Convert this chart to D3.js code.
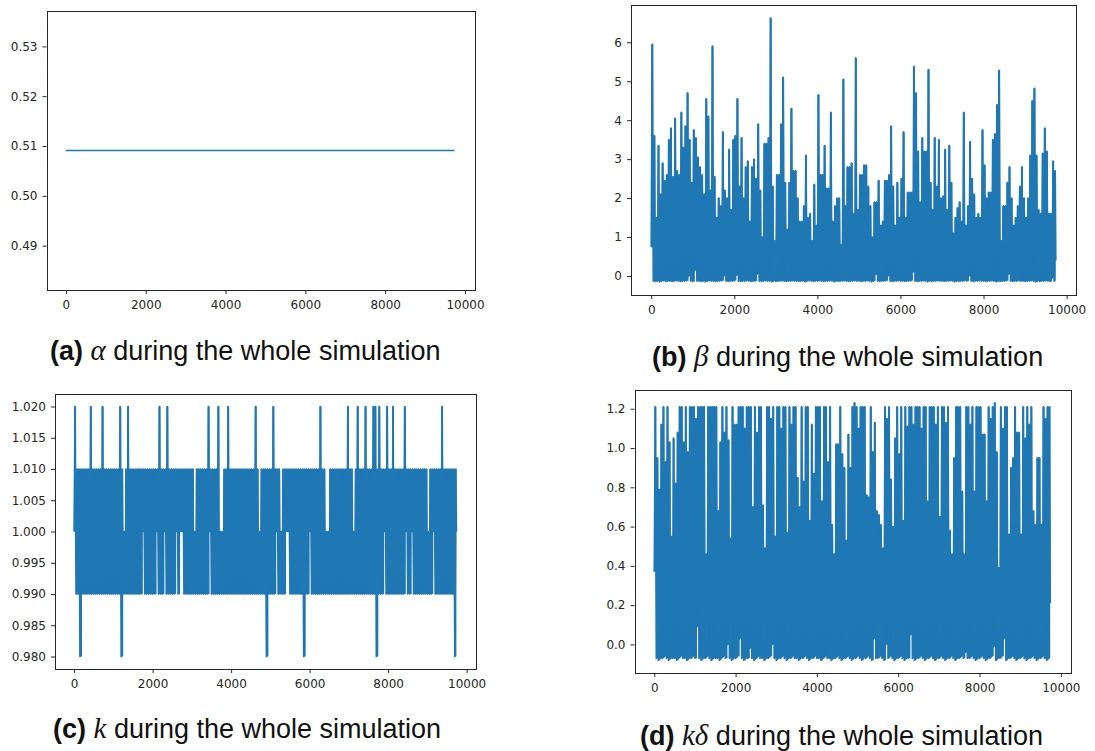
<!DOCTYPE html>
<html>
<head>
<meta charset="utf-8">
<script src="https://cdn.jsdelivr.net/npm/d3@7"></script>
<style>
  html, body { margin: 0; padding: 0; background: #ffffff; }
  svg { display: block; }
</style>
</head>
<body>
<svg id="fig" width="1095" height="751"></svg>
<script>
// ---------------------------------------------------------------
// Simulation traces: 9740 iterations, summarised every 50 steps.
// Each 50-step window holds its lowest value (trough, at the start of
// the window) and its highest value (peak, half way through it).
// ---------------------------------------------------------------
const lastStep = 9739;
const binWidth = 50;

// alpha stays constant during the whole run
const alphaSteps  = [0, 9739];
const alphaValues = [0.5091, 0.5091];

// beta
const betaPeaks = [
  5.95, 3.6, 1.5, 3.35, 2.1, 2.9, 2.45, 2.6, 3.5, 3.8,
  2.55, 4.05, 2.7, 2.6, 4.2, 3.3, 3.85, 4.7, 3.5, 2.4,
  3.75, 3.55, 3.05, 2.8, 2.6, 2.1, 4.55, 4.1, 2.2, 5.9,
  2.55, 1.5, 2.0, 1.8, 3.7, 2.2, 2.0, 3.25, 1.7, 3.5,
  3.6, 4.55, 2.3, 3.55, 2.0, 2.8, 2.95, 1.4, 2.8, 3.0,
  2.5, 3.9, 2.2, 1.0, 3.4, 3.4, 3.55, 6.62, 2.3, 0.9,
  2.6, 2.6, 3.9, 5.1, 2.4, 1.2, 2.4, 4.3, 2.7, 2.7,
  2.0, 1.4, 1.4, 1.8, 3.1, 1.5, 1.6, 0.9, 2.35, 1.3,
  4.65, 2.6, 2.6, 3.35, 2.25, 2.25, 4.2, 1.4, 1.8, 2.0,
  2.0, 0.8, 5.05, 1.8, 2.8, 2.8, 2.9, 1.6, 5.6, 1.7,
  2.6, 2.6, 2.85, 2.85, 2.3, 1.8, 1.0, 1.9, 1.9, 2.45,
  1.3, 1.4, 2.45, 2.45, 2.6, 3.85, 2.3, 1.3, 2.4, 1.5,
  2.5, 3.7, 1.5, 2.15, 2.15, 2.15, 5.38, 4.7, 3.2, 1.9,
  3.55, 3.2, 3.2, 5.3, 2.4, 1.7, 3.55, 2.3, 3.5, 2.0,
  2.05, 3.25, 1.7, 3.35, 2.4, 1.1, 1.5, 1.75, 1.9, 1.4,
  4.2, 1.3, 1.8, 3.45, 2.5, 2.1, 1.5, 1.6, 1.5, 3.75,
  2.85, 2.0, 2.15, 2.15, 3.5, 3.65, 4.4, 5.28, 0.9, 1.8,
  1.8, 2.4, 2.8, 2.0, 1.3, 1.5, 1.8, 2.3, 2.8, 2.0,
  1.5, 2.0, 3.1, 4.5, 4.82, 3.1, 1.7, 1.6, 3.15, 3.8,
  3.2, 1.6, 1.6, 2.95, 2.7
];
const betaTroughs = [
  0.74, -0.13, -0.14, -0.13, -0.15, -0.13, -0.12, -0.14, -0.13, -0.13,
  -0.14, -0.13, -0.12, -0.13, -0.14, -0.13, -0.13, -0.12, 0.0, -0.13,
  -0.14, 0.15, -0.13, -0.13, -0.14, -0.13, -0.15, -0.13, -0.12, -0.13,
  -0.13, -0.14, -0.13, -0.13, -0.12, 0.0, -0.13, -0.14, -0.13, -0.13,
  -0.12, 0.02, -0.13, -0.14, -0.13, -0.13, -0.12, -0.13, -0.14, -0.13,
  -0.13, 0.05, -0.13, -0.14, -0.13, -0.12, -0.13, -0.13, -0.15, -0.13,
  -0.14, -0.13, -0.13, -0.12, -0.13, -0.14, -0.13, -0.13, -0.12, -0.13,
  -0.13, -0.14, -0.13, -0.13, -0.15, -0.13, -0.12, -0.13, -0.14, -0.13,
  -0.13, -0.12, -0.13, -0.14, -0.13, -0.13, -0.12, -0.13, -0.15, -0.13,
  -0.14, -0.13, -0.13, -0.12, -0.13, -0.14, -0.13, -0.13, -0.12, -0.13,
  -0.13, -0.14, -0.13, -0.13, -0.12, -0.13, -0.15, -0.13, 0.04, -0.13,
  -0.14, -0.13, -0.13, -0.12, 0.0, -0.13, -0.14, -0.13, -0.13, -0.12,
  -0.13, -0.13, -0.14, -0.13, -0.13, -0.12, 0.1, -0.13, -0.14, -0.13,
  -0.13, -0.12, -0.13, -0.15, -0.13, -0.14, -0.13, -0.13, -0.12, -0.13,
  -0.13, -0.14, -0.13, -0.13, -0.12, -0.13, -0.15, -0.13, -0.14, -0.13,
  -0.13, -0.12, -0.13, 0.0, -0.13, -0.14, -0.13, -0.13, -0.12, -0.13,
  -0.13, -0.14, -0.13, -0.13, -0.12, -0.13, -0.15, -0.13, -0.14, -0.13,
  -0.13, -0.12, 0.05, -0.13, -0.14, -0.13, -0.13, -0.12, -0.13, -0.13,
  -0.14, -0.13, -0.13, -0.12, -0.13, -0.15, -0.13, -0.14, -0.13, -0.13,
  -0.12, -0.13, -0.14, -0.05, -0.13
];
const betaEnd = 0.4;

// k
const kPeaks = [
  1.02, 1.01, 1.01, 1.01, 1.01, 1.01, 1.01, 1.01, 1.02, 1.01,
  1.01, 1.01, 1.01, 1.01, 1.02, 1.01, 1.01, 1.01, 1.01, 1.01,
  1.01, 1.01, 1.01, 1.02, 1.01, 1.00, 1.01, 1.02, 1.01, 1.01,
  1.01, 1.01, 1.01, 1.01, 1.01, 1.01, 1.01, 1.01, 1.01, 1.01,
  1.01, 1.01, 1.01, 1.02, 1.01, 1.01, 1.01, 1.02, 1.01, 1.01,
  1.01, 1.01, 1.01, 1.01, 1.01, 1.01, 1.01, 1.01, 1.01, 1.01,
  1.01, 1.00, 1.01, 1.01, 1.01, 1.01, 1.01, 1.01, 1.02, 1.01,
  1.01, 1.01, 1.01, 1.02, 1.00, 1.00, 1.01, 1.01, 1.02, 1.01,
  1.01, 1.01, 1.01, 1.01, 1.01, 1.01, 1.01, 1.01, 1.01, 1.01,
  1.01, 1.01, 1.02, 1.01, 1.00, 1.01, 1.01, 1.01, 1.01, 1.01,
  1.01, 1.02, 1.01, 1.01, 1.01, 1.00, 1.01, 1.01, 1.01, 1.01,
  1.01, 1.01, 1.01, 1.01, 1.01, 1.01, 1.01, 1.01, 1.01, 1.01,
  1.01, 1.01, 1.01, 1.01, 1.01, 1.02, 1.01, 1.01, 1.00, 1.00,
  1.01, 1.01, 1.01, 1.01, 1.01, 1.01, 1.01, 1.01, 1.01, 1.02,
  1.01, 1.01, 1.00, 1.01, 1.02, 1.01, 1.01, 1.01, 1.02, 1.01,
  1.01, 1.01, 1.02, 1.02, 1.01, 1.02, 1.01, 1.01, 1.01, 1.02,
  1.01, 1.01, 1.02, 1.01, 1.01, 1.01, 1.01, 1.01, 1.02, 1.01,
  1.01, 1.01, 1.01, 1.01, 1.01, 1.01, 1.01, 1.01, 1.01, 1.01,
  1.00, 1.01, 1.01, 1.01, 1.01, 1.01, 1.01, 1.02, 1.01, 1.01,
  1.01, 1.01, 1.01, 1.01, 1.01
];
const kTroughs = [
  1.00, 0.99, 0.99, 0.98, 0.99, 0.99, 0.99, 0.99, 0.99, 0.99,
  0.99, 0.99, 0.99, 0.99, 0.99, 0.99, 0.99, 0.99, 0.99, 0.99,
  0.99, 0.99, 0.99, 0.99, 0.98, 0.99, 0.99, 0.99, 0.99, 0.99,
  0.99, 0.99, 0.99, 0.99, 0.99, 1.00, 0.99, 0.99, 0.99, 0.99,
  0.99, 0.99, 1.00, 0.99, 0.99, 0.99, 1.00, 0.99, 0.99, 0.99,
  0.99, 0.99, 1.00, 0.99, 1.00, 1.00, 0.99, 0.99, 0.99, 0.99,
  0.99, 0.99, 0.99, 0.99, 0.99, 0.99, 0.99, 0.99, 0.99, 1.00,
  0.99, 0.99, 0.99, 0.99, 0.99, 0.99, 0.99, 0.99, 0.99, 0.99,
  0.99, 0.99, 0.99, 0.99, 0.99, 0.99, 0.99, 0.99, 0.99, 0.99,
  0.99, 0.99, 0.99, 0.99, 0.99, 0.99, 0.99, 0.99, 0.98, 0.99,
  0.99, 0.99, 0.99, 1.00, 0.99, 0.99, 0.99, 0.99, 1.00, 1.00,
  0.99, 0.99, 0.99, 0.99, 0.99, 0.99, 0.99, 0.98, 0.99, 0.99,
  1.00, 0.99, 0.99, 0.99, 0.99, 0.99, 0.99, 0.99, 0.99, 0.99,
  0.99, 0.99, 0.99, 0.99, 0.99, 0.99, 0.99, 0.99, 0.99, 0.99,
  0.99, 0.99, 0.99, 0.99, 0.99, 0.99, 0.99, 0.99, 0.99, 0.99,
  0.99, 0.99, 0.99, 0.99, 0.98, 0.99, 0.99, 0.99, 1.00, 0.99,
  0.99, 0.99, 0.99, 0.99, 0.99, 0.99, 0.99, 0.99, 0.99, 1.00,
  0.99, 0.99, 1.00, 0.99, 0.99, 0.99, 0.99, 0.99, 0.99, 0.99,
  0.99, 0.99, 0.99, 1.00, 0.99, 0.99, 0.99, 0.99, 0.99, 0.99,
  0.99, 0.99, 0.99, 0.99, 0.98
];
const kEnd = 1.00;

// k * delta
const kdPeaks = [
  1.21, 0.95, 0.79, 1.12, 1.21, 0.93, 1.21, 1.03, 0.55, 1.05,
  0.82, 1.08, 1.21, 1.21, 1.03, 1.21, 0.98, 1.21, 1.21, 1.21,
  1.15, 1.21, 1.21, 1.21, 1.21, 0.46, 1.21, 1.21, 1.21, 1.21,
  1.21, 0.68, 1.03, 1.21, 1.08, 1.21, 1.04, 0.54, 1.21, 1.12,
  1.12, 1.21, 1.21, 1.21, 1.10, 1.21, 1.21, 1.21, 0.70, 1.21,
  1.08, 1.21, 1.21, 0.71, 0.49, 1.21, 1.21, 1.15, 1.21, 0.55,
  1.21, 1.21, 1.10, 1.21, 1.21, 0.57, 1.21, 1.12, 1.21, 1.21,
  0.85, 0.70, 1.21, 0.83, 1.21, 1.21, 0.63, 1.12, 0.87, 1.21,
  1.21, 1.21, 0.73, 1.21, 1.21, 0.93, 1.21, 0.61, 0.46, 1.02,
  1.02, 1.21, 0.97, 0.90, 0.53, 1.07, 0.90, 1.21, 1.23, 1.21,
  1.10, 1.21, 1.21, 1.21, 0.76, 0.75, 1.21, 0.98, 1.13, 0.68,
  0.66, 0.61, 0.49, 1.21, 1.15, 1.21, 0.84, 0.60, 1.05, 1.21,
  0.97, 1.21, 0.63, 1.21, 1.11, 1.21, 1.21, 1.12, 1.21, 1.21,
  1.21, 1.10, 1.21, 1.21, 0.73, 1.21, 1.21, 1.21, 1.12, 1.21,
  0.65, 1.21, 1.21, 1.13, 1.21, 0.58, 0.46, 0.95, 1.21, 1.21,
  1.21, 0.78, 0.46, 1.21, 1.21, 1.12, 1.21, 0.78, 1.21, 1.21,
  1.21, 1.07, 1.07, 0.73, 1.21, 1.15, 1.21, 1.23, 0.98, 0.39,
  1.21, 1.10, 1.21, 1.21, 0.56, 0.90, 0.95, 1.21, 1.08, 1.08,
  0.56, 1.21, 1.05, 1.21, 1.12, 1.21, 0.68, 0.61, 0.95, 0.95,
  0.61, 1.21, 1.15, 1.21, 1.21
];
const kdTroughs = [
  0.37, -0.07, -0.08, -0.07, -0.07, -0.06, -0.07, -0.08, -0.07, -0.07,
  -0.07, -0.08, -0.07, -0.06, -0.07, -0.07, -0.08, -0.07, -0.07, -0.06,
  -0.07, 0.09, -0.07, -0.08, -0.07, -0.07, -0.06, -0.07, -0.08, -0.07,
  -0.07, -0.07, -0.08, -0.07, -0.06, -0.07, 0.0, -0.07, -0.08, -0.07,
  -0.07, -0.06, 0.03, -0.07, -0.08, -0.07, -0.07, -0.02, -0.07, -0.08,
  -0.07, -0.06, -0.07, -0.07, -0.08, -0.07, -0.07, -0.06, 0.0, -0.07,
  -0.08, -0.07, -0.07, -0.06, -0.07, -0.08, -0.07, -0.07, -0.06, -0.07,
  -0.07, -0.08, -0.07, -0.07, -0.06, -0.07, -0.08, -0.07, -0.07, -0.06,
  -0.07, -0.07, -0.08, -0.07, -0.06, -0.07, -0.07, -0.08, -0.07, -0.07,
  -0.06, -0.07, -0.08, -0.07, -0.07, -0.06, -0.07, -0.08, -0.07, -0.07,
  -0.06, -0.07, -0.08, -0.07, -0.07, -0.06, -0.07, -0.08, 0.03, -0.07,
  -0.07, -0.06, -0.07, -0.08, 0.0, -0.07, -0.06, -0.07, -0.08, -0.07,
  -0.07, -0.06, -0.07, -0.08, -0.07, -0.07, 0.05, -0.07, -0.08, -0.07,
  -0.07, -0.06, -0.07, -0.08, -0.07, -0.07, -0.06, -0.07, -0.08, -0.07,
  -0.07, -0.06, -0.07, -0.08, -0.07, -0.07, -0.06, -0.07, -0.08, -0.07,
  -0.07, -0.06, -0.07, -0.04, -0.07, -0.07, -0.06, -0.07, -0.08, -0.07,
  -0.07, -0.06, -0.07, -0.08, -0.07, -0.07, -0.06, -0.01, -0.08, -0.07,
  -0.07, -0.06, 0.03, -0.08, -0.07, -0.07, -0.06, -0.07, -0.08, -0.07,
  -0.07, -0.06, -0.07, -0.08, -0.07, -0.07, -0.06, -0.07, -0.08, -0.07,
  -0.07, -0.06, -0.07, -0.08, -0.07
];
const kdEnd = 0.21;

// axis ticks
const stepTicks  = [0, 2000, 4000, 6000, 8000, 10000];
const alphaTicks = [0.49, 0.50, 0.51, 0.52, 0.53];
const betaTicks  = [0, 1, 2, 3, 4, 5, 6];
const kTicks     = [0.980, 0.985, 0.990, 0.995, 1.000, 1.005, 1.010, 1.015, 1.020];
const kdTicks    = [0.0, 0.2, 0.4, 0.6, 0.8, 1.0, 1.2];

// captions
const captionTags    = ['(a)', '(b)', '(c)', '(d)'];
const captionSymbols = ['\u03B1', '\u03B2', 'k', 'k\u03B4'];
const captionText    = 'during the whole simulation';

// ---------------------------------------------------------------
const LINE_COLOR = '#1f77b4';
const INK = '#262626';

// each window contributes its trough then its peak; the run ends on a final value
function windowPoints(troughs, peaks, endValue) {
  const pts = [];
  troughs.forEach((t, i) => {
    pts.push([i * binWidth, t]);
    pts.push([i * binWidth + binWidth / 2, peaks[i]]);
  });
  pts.push([lastStep, endValue]);
  return pts;
}

// the band swept by the trace inside each window (trough .. peak)
function windowBands(troughs, peaks, endValue) {
  const bands = troughs.map((t, i) => ({ step: i * binWidth, lo: t, hi: peaks[i] }));
  bands.push({ step: lastStep, lo: endValue, hi: endValue });
  return bands;
}

// autoscaled limits: 5% padding, widened first when the data is flat
function paddedLimits(lo, hi) {
  if (hi - lo < 1e-12) {
    lo -= 0.05 * Math.abs(lo);
    hi += 0.05 * Math.abs(hi);
  }
  const m = (hi - lo) * 0.05;
  return [lo - m, hi + m];
}

const panels = [
  {
    points: alphaSteps.map((s, i) => [s, alphaValues[i]]),
    bands: null,
    yTicks: alphaTicks, fmt: d3.format('.2f'),
    box: { left: 46.5, top: 11, right: 474, bottom: 290 },
    caption: { x: 50, y: 360 }
  },
  {
    points: windowPoints(betaTroughs, betaPeaks, betaEnd),
    bands: windowBands(betaTroughs, betaPeaks, betaEnd),
    yTicks: betaTicks, fmt: d3.format('d'),
    box: { left: 631, top: 5, right: 1076, bottom: 295 },
    caption: { x: 652, y: 366 }
  },
  {
    points: windowPoints(kTroughs, kPeaks, kEnd),
    bands: windowBands(kTroughs, kPeaks, kEnd),
    yTicks: kTicks, fmt: d3.format('.3f'),
    box: { left: 55, top: 394, right: 475.5, bottom: 669 },
    caption: { x: 53, y: 738 }
  },
  {
    points: windowPoints(kdTroughs, kdPeaks, kdEnd),
    bands: windowBands(kdTroughs, kdPeaks, kdEnd),
    yTicks: kdTicks, fmt: d3.format('.1f'),
    box: { left: 634.5, top: 390, right: 1070, bottom: 673 },
    caption: { x: 640, y: 745 }
  }
];

const svg = d3.select('#fig');
svg.append('rect').attr('width', 1095).attr('height', 751).attr('fill', '#ffffff');

panels.forEach((p, idx) => {
  const b = p.box;
  const steps = p.points.map(d => d[0]);
  const vals = p.points.map(d => d[1]);
  const x = d3.scaleLinear()
    .domain(paddedLimits(d3.min(steps), d3.max(steps)))
    .range([b.left, b.right]);
  const y = d3.scaleLinear()
    .domain(paddedLimits(d3.min(vals), d3.max(vals)))
    .range([b.bottom, b.top]);

  const g = svg.append('g');
  const clipId = 'clip' + idx;
  svg.append('clipPath').attr('id', clipId)
    .append('rect')
    .attr('x', b.left).attr('y', b.top)
    .attr('width', b.right - b.left).attr('height', b.bottom - b.top);

  const plot = g.append('g').attr('clip-path', `url(#${clipId})`);

  if (p.bands) {
    const band = d3.area()
      .curve(d3.curveStepAfter)
      .x(d => x(d.step))
      .y0(d => y(d.lo))
      .y1(d => y(d.hi));
    plot.append('path')
      .datum(p.bands)
      .attr('d', band)
      .attr('fill', LINE_COLOR)
      .attr('stroke', 'none');
  }

  const line = d3.line().x(d => x(d[0])).y(d => y(d[1]));
  plot.append('path')
    .datum(p.points)
    .attr('d', line)
    .attr('fill', 'none')
    .attr('stroke', LINE_COLOR)
    .attr('stroke-width', 1.7)
    .attr('stroke-linejoin', 'round');

  // axes
  const xAxis = d3.axisBottom(x).tickValues(stepTicks).tickFormat(d3.format('d'))
    .tickSize(4).tickPadding(6);
  const yAxis = d3.axisLeft(y).tickValues(p.yTicks).tickFormat(p.fmt)
    .tickSize(4).tickPadding(5);

  const gx = g.append('g').attr('transform', `translate(0,${b.bottom})`).call(xAxis);
  const gy = g.append('g').attr('transform', `translate(${b.left},0)`).call(yAxis);
  [gx, gy].forEach(ax => {
    ax.select('.domain').remove();
    ax.selectAll('line').attr('stroke', INK).attr('stroke-width', 1);
    ax.selectAll('text')
      .attr('fill', INK)
      .style('font-family', '"DejaVu Sans", sans-serif')
      .style('font-size', '12px');
  });

  // frame
  g.append('rect')
    .attr('x', Math.round(b.left) + 0.5).attr('y', Math.round(b.top) + 0.5)
    .attr('width', Math.round(b.right - b.left)).attr('height', Math.round(b.bottom - b.top))
    .attr('fill', 'none').attr('stroke', INK).attr('stroke-width', 1);

  // caption
  const t = svg.append('text')
    .attr('x', p.caption.x).attr('y', p.caption.y)
    .attr('fill', '#111')
    .style('font-family', '"Liberation Sans", Arial, Helvetica, sans-serif')
    .style('font-size', '27px');
  t.append('tspan').attr('font-weight', 'bold').text(captionTags[idx]);
  t.append('tspan').text('\u00A0');
  t.append('tspan')
    .style('font-family', '"Liberation Serif", "DejaVu Serif", serif')
    .style('font-style', 'italic')
    .style('font-size', '29px')
    .text(captionSymbols[idx]);
  t.append('tspan').text('\u00A0' + captionText);
});
</script>
</body>
</html>
